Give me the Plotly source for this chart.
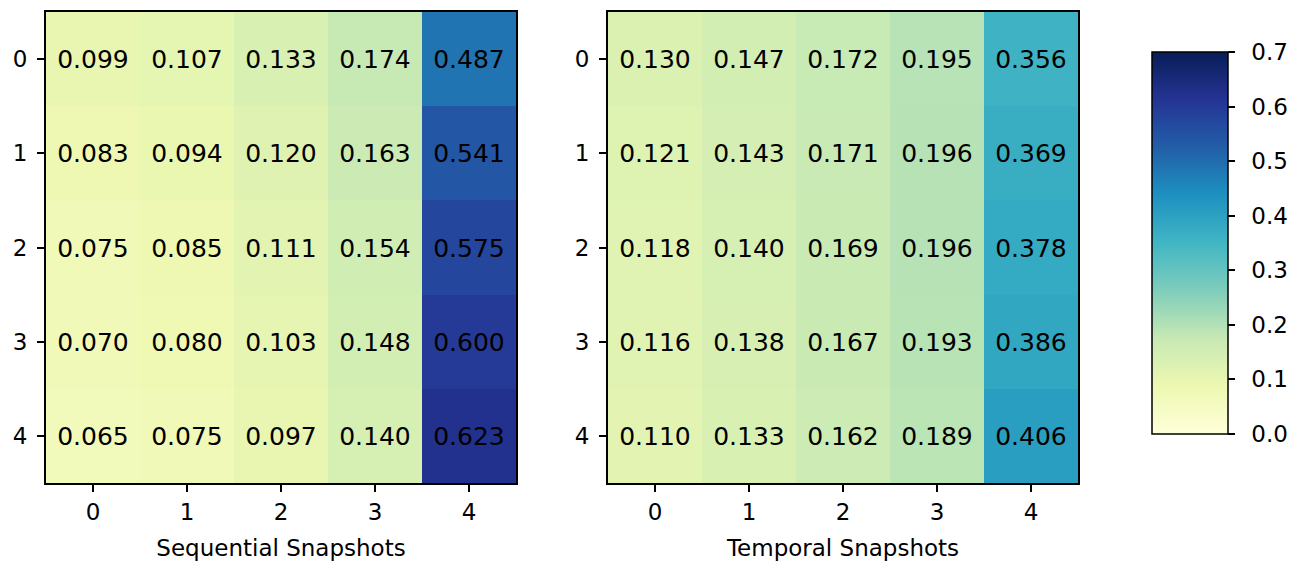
import plotly.graph_objects as go
import plotly.colors as pc

rows = [0, 1, 2, 3, 4]
cols = [0, 1, 2, 3, 4]

sequential = [
    [0.099, 0.107, 0.133, 0.174, 0.487],
    [0.083, 0.094, 0.120, 0.163, 0.541],
    [0.075, 0.085, 0.111, 0.154, 0.575],
    [0.070, 0.080, 0.103, 0.148, 0.600],
    [0.065, 0.075, 0.097, 0.140, 0.623],
]
temporal = [
    [0.130, 0.147, 0.172, 0.195, 0.356],
    [0.121, 0.143, 0.171, 0.196, 0.369],
    [0.118, 0.140, 0.169, 0.196, 0.378],
    [0.116, 0.138, 0.167, 0.193, 0.386],
    [0.110, 0.133, 0.162, 0.189, 0.406],
]
titles = ["Sequential Snapshots", "Temporal Snapshots"]
cbar_ticks = [0.0, 0.1, 0.2, 0.3, 0.4, 0.5, 0.6, 0.7]

W, H = 1303, 562
FONT = "DejaVu Sans"
FS = 23
FS_CELL = 25

# plot area in pixels
L, R, T, B = 46, 1078, 12, 483
PW, PH = R - L, B - T

cs = pc.sequential.YlGnBu
n = len(cs)
colorscale = [[i / (n - 1), c] for i, c in enumerate(cs)]

fig = go.Figure()

fig.add_trace(go.Heatmap(
    z=sequential, x=cols, y=rows, zmin=0, zmax=0.7, colorscale=colorscale,
    texttemplate="%{z:.3f}", textfont=dict(family=FONT, size=FS_CELL, color="black"),
    showscale=False, xaxis="x", yaxis="y", hoverinfo="skip",
))
fig.add_trace(go.Heatmap(
    z=temporal, x=cols, y=rows, zmin=0, zmax=0.7, colorscale=colorscale,
    texttemplate="%{z:.3f}", textfont=dict(family=FONT, size=FS_CELL, color="black"),
    showscale=True, xaxis="x2", yaxis="y2", hoverinfo="skip",
    colorbar=dict(
        x=(1152 - L) / PW, xanchor="left", y=(B - 52) / PH, yanchor="top",
        len=382, lenmode="pixels", thickness=76, thicknessmode="pixels",
        xpad=0, ypad=0, outlinewidth=1.5, outlinecolor="black",
        ticks="outside", ticklen=7, tickwidth=1.5, tickcolor="black",
        tickvals=cbar_ticks, ticktext=["\u2002" + f"{v:.1f}" for v in cbar_ticks],
        tickfont=dict(family=FONT, size=FS, color="black"),
    ),
))

axis_common = dict(
    range=[-0.5, 4.5], showline=True, linecolor="black", linewidth=1.8, mirror=True,
    ticks="outside", ticklen=7, tickwidth=1.5, tickcolor="black",
    tickfont=dict(family=FONT, size=FS, color="black"), showgrid=False, zeroline=False,
    tickvals=cols, ticktext=[str(c) for c in cols], automargin=False,
)
yaxis_common = dict(axis_common)
yaxis_common["range"] = [4.5, -0.5]
yaxis_common["tickvals"] = rows
yaxis_common["ticktext"] = [str(r) for r in rows]
yaxis_common["ticklabelstandoff"] = 5

fig.update_layout(
    width=W, height=H, margin=dict(l=L, r=W - R, t=T, b=H - B, autoexpand=False),
    paper_bgcolor="white", plot_bgcolor="white",
    font=dict(family=FONT, size=FS, color="black"),
    xaxis=dict(axis_common, domain=[0, (516 - L) / PW], anchor="y",
               title=dict(text=titles[0], font=dict(family=FONT, size=FS), standoff=16)),
    yaxis=dict(yaxis_common, domain=[0, 1], anchor="x"),
    xaxis2=dict(axis_common, domain=[(608 - L) / PW, 1], anchor="y2",
                title=dict(text=titles[1], font=dict(family=FONT, size=FS), standoff=16)),
    yaxis2=dict(yaxis_common, domain=[0, 1], anchor="x2"),
)

fig.write_html(
    "out.html",
    config={"displayModeBar": False},
    post_script="document.body.style.margin='0';document.body.style.overflow='hidden';",
)
